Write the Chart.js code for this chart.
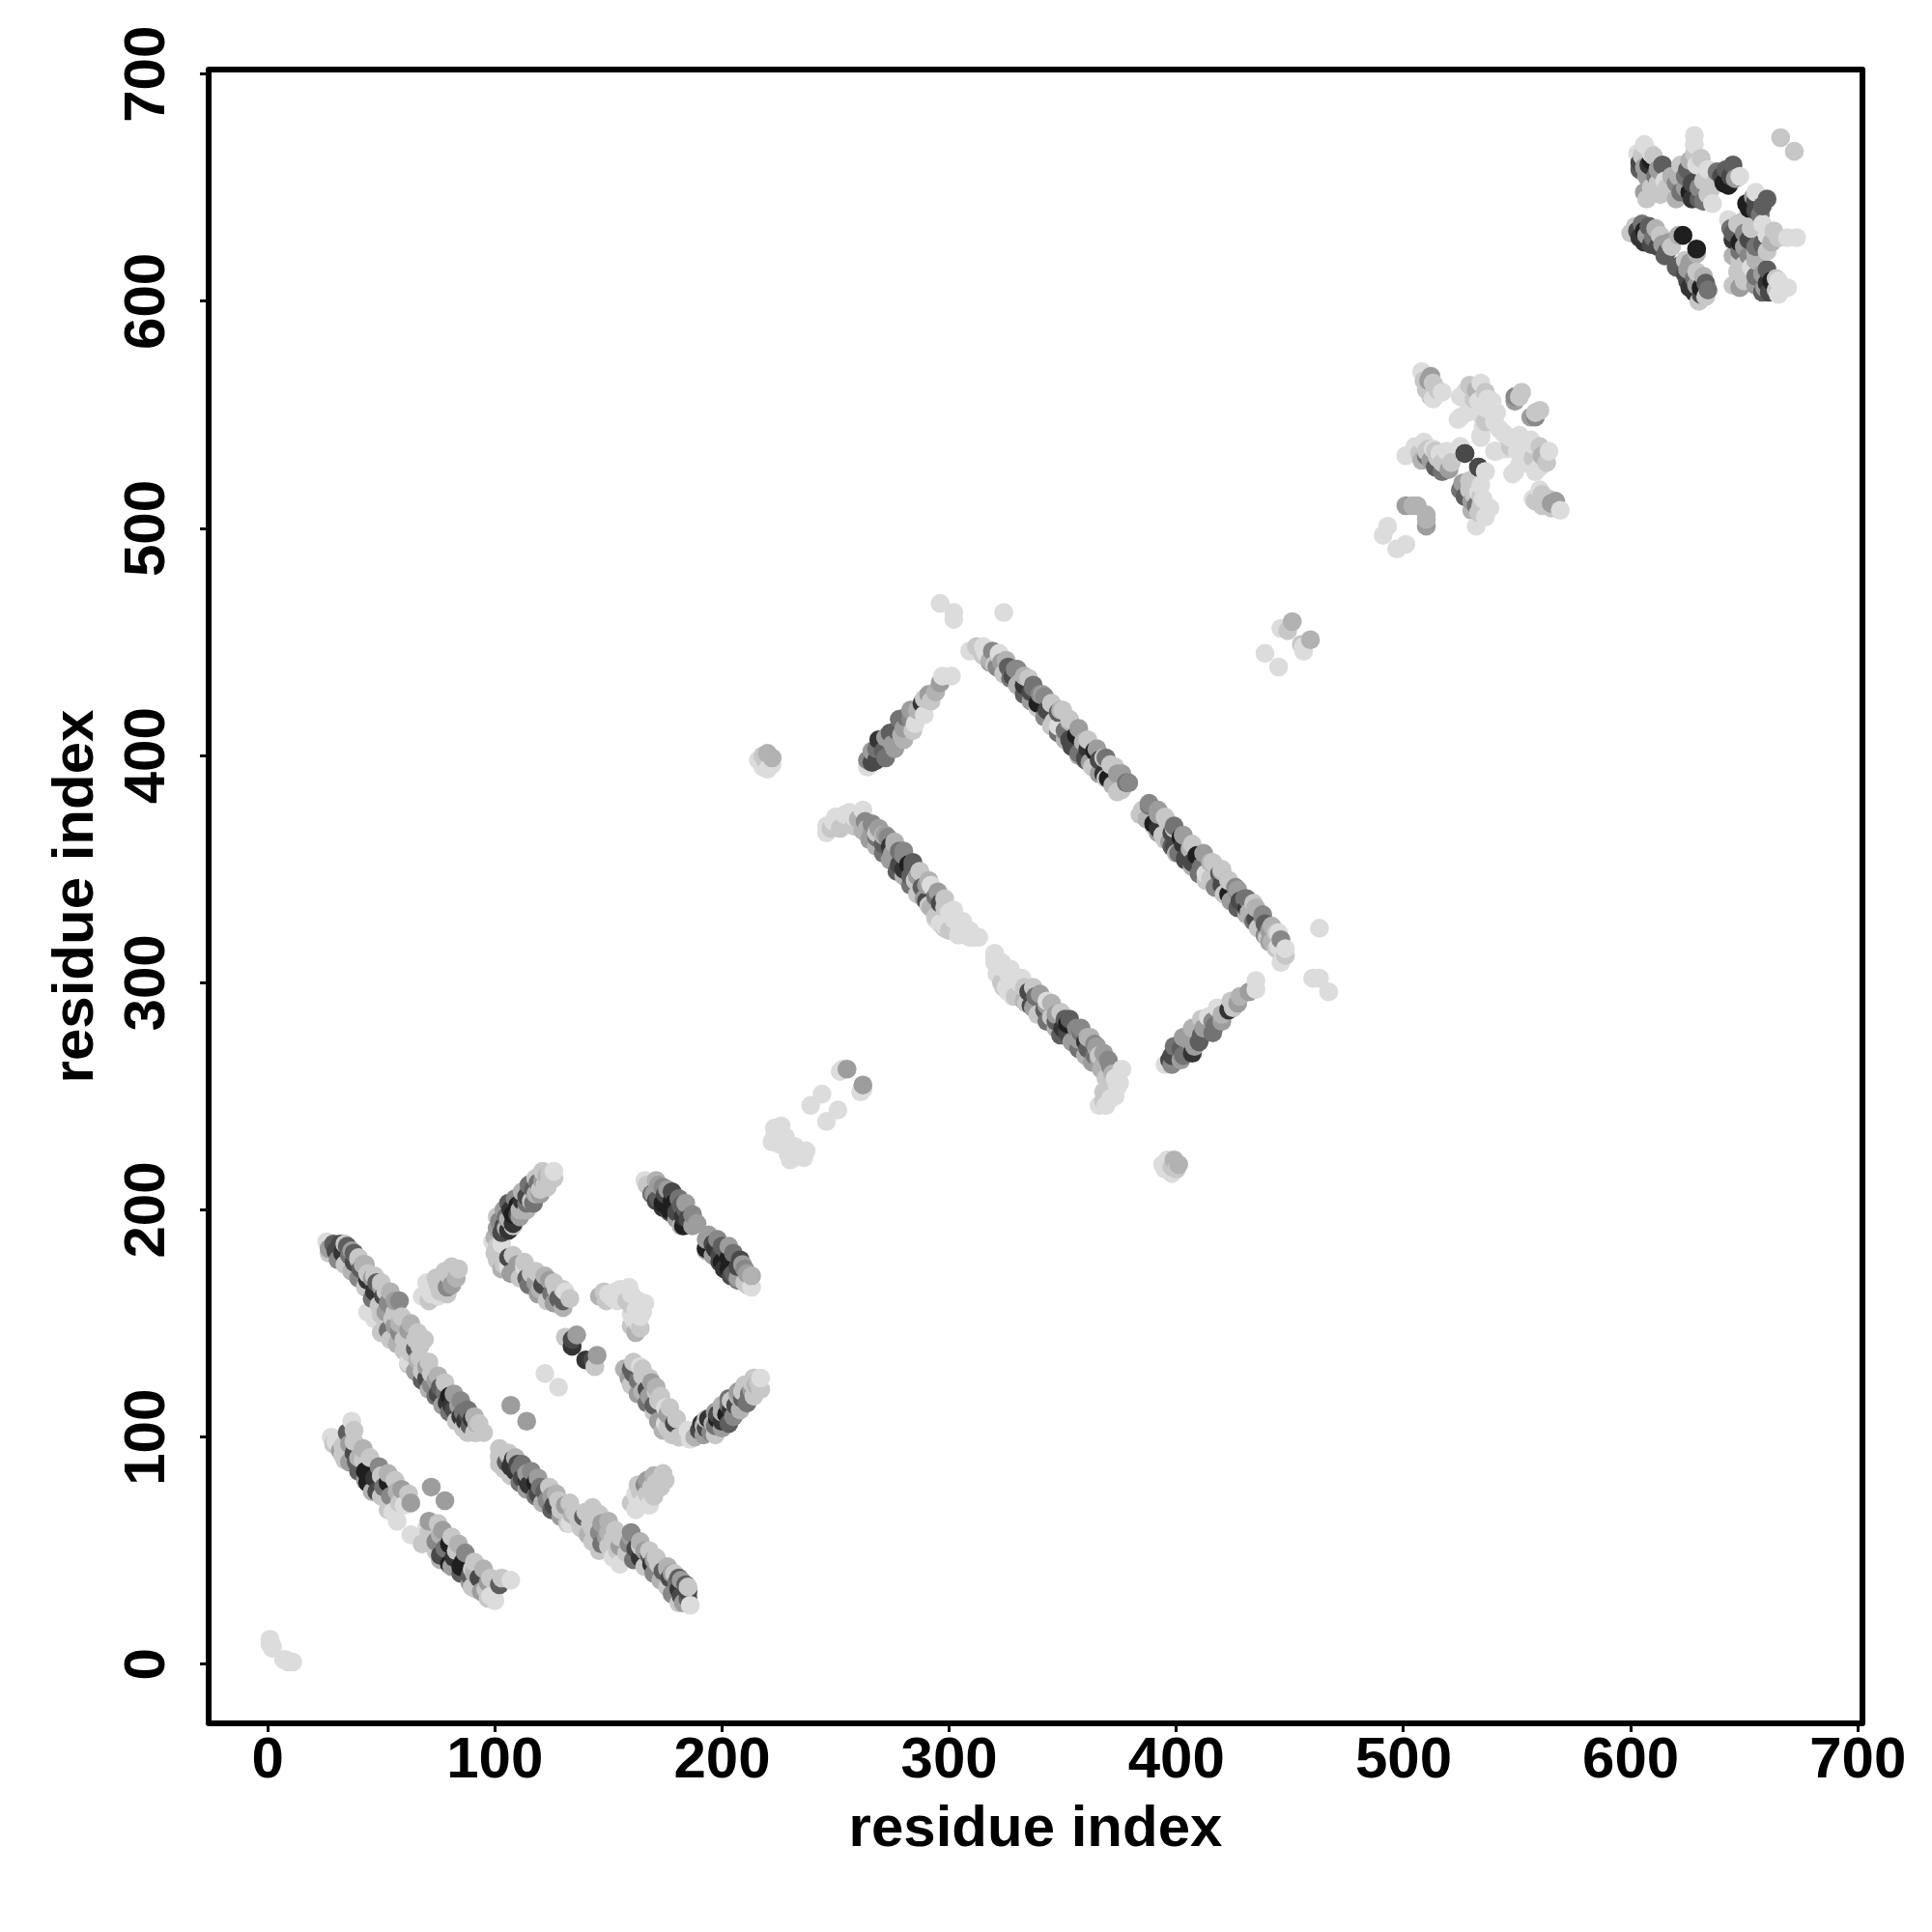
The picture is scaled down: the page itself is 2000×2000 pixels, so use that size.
<!DOCTYPE html>
<html>
<head>
<meta charset="utf-8">
<style>html,body{margin:0;padding:0;background:#fff}canvas{display:block}</style>
<script src="https://cdn.jsdelivr.net/npm/chart.js@4/dist/chart.umd.min.js"></script>
</head>
<body>
<canvas id="c" width="2000" height="2000"></canvas>
<script>
// Each contact: [residue i, residue j, strength 0..9]. A contact map is symmetric, so each pair shows as (i,j) and (j,i).
const tickValues = [0, 100, 200, 300, 400, 500, 600, 700];
const axisTitle = "residue index";
const termini = [[1,11,0],[1,9,0],[2,7,0],[2,8,0]];
const strandA1 = [[26,186,0],[27,183,3],[29,185,6],[30,182,7],[32,185,7],[33,181,8],[35,184,6],[36,180,5],[38,181,6],[38,177,7],[40,178,3],[41,174,6],[42,176,2],[44,172,1],[44,169,8],[46,170,3],[48,168,6],[47,164,8],[50,166,3],[51,162,7],[52,164,1],[53,159,4],[56,160,3],
  [27,181,1],[31,178,4],[34,176,1],[37,173,2],[40,170,4],[43,166,1],[46,161,5],[49,158,1],[52,155,3],[34,185,1],[37,182,3],[40,179,1],[43,176,2],[47,171,1],[50,168,1],[54,164,2],[58,160,4]];
const strandA2 = [[44,155,0],[47,152,0],[50,154,1],[52,150,1],[53,147,5],[55,152,1],[56,149,3],[58,146,4],[58,150,2],[60,143,1],[62,147,3],[62,142,1],[65,139,6],[65,143,1],[67,140,1],
  [56,155,1],[59,153,1],[63,150,2],[66,146,1],[69,143,1],[50,146,1],[54,143,1],[57,141,2],[60,138,1]];
const strandA3 = [[62,133,0],[63,137,1],[66,134,2],[68,129,1],[67,135,1],[70,131,3],[70,126,7],[72,128,1],[72,123,4],[74,125,3],[75,119,7],[76,122,6],[78,120,5],[79,115,8],[80,118,9],[81,114,8],[82,112,7],[84,114,3],[85,109,8],[86,111,5],[87,107,8],[88,110,7],[89,105,6],[90,108,8],[91,102,1],[92,106,2],[92,102,1],
  [62,132,1],[65,129,3],[68,125,6],[71,121,2],[74,118,5],[77,114,3],[80,111,5],[83,107,1],[86,104,1],[88,102,1],[71,133,1],[75,127,2],[78,124,1],[82,119,3],[85,116,4],[88,112,5],[91,109,2],[93,106,1],[95,102,1]];
const strandB = [[28,100,0],[30,98,0],[32,94,3],[33,96,1],[34,90,1],[35,102,6],[36,97,3],[37,107,0],[38,103,1],[38,93,7],[39,89,6],[40,91,2],[42,90,1],[43,85,9],[44,80,9],[45,86,9],[47,82,8],[48,76,7],[50,83,1],[51,78,5],[53,80,9],[54,74,4],[55,67,0],[57,76,2],[57,63,0],[58,71,1],[60,70,0],[63,71,3],[72,78,3],
  [29,97,1],[33,92,1],[36,89,3],[40,85,6],[43,81,3],[46,76,2],[50,74,1],[53,68,1],[38,98,1],[42,95,2],[45,91,1],[49,87,4],[53,84,2],[56,81,1],[59,77,3],[62,75,1]];
const strandC = [[100,188,2],[101,192,3],[102,195,4],[103,190,7],[104,193,7],[105,197,5],[106,191,8],[106,196,2],[107,200,8],[108,194,8],[108,198,9],[110,198,7],[110,202,9],[111,200,2],[112,204,8],[114,203,5],[114,206,7],[116,204,1],[117,209,6],[118,207,2],[119,212,5],[120,209,1],[121,213,3],[122,211,1],[123,215,2],[124,213,1],[124,216,1],[126,217,0],
  [101,197,1],[104,200,3],[106,203,6],[109,205,4],[112,208,2],[115,211,5],[118,214,1],[121,217,1],[105,192,2],[108,193,1],[111,197,3],[114,200,2],[117,203,5],[120,207,3],[123,210,1],[126,214,1]];
const strandD = [[99,186,0],[101,184,1],[103,185,0],[101,178,1],[104,176,1],[106,179,7],[106,175,0],[110,176,3],[113,175,0],[114,170,6],[116,172,1],[118,168,3],[120,171,1],[120,165,2],[121,167,7],[124,169,3],[125,163,5],[127,165,1],[128,161,6],[130,160,6],[131,164,0],
  [100,181,1],[103,174,2],[107,172,3],[111,170,1],[115,167,5],[119,163,3],[123,160,1],[126,159,3],[130,157,2],[108,180,1],[113,177,1],[118,173,1],[122,171,2],[126,168,1],[130,165,1],[133,161,1]];
const strandE = [[166,213,0],[168,210,1],[170,207,3],[172,211,3],[172,205,6],[174,203,9],[175,207,7],[176,209,3],[177,200,9],[178,204,9],[179,203,9],[180,199,7],[182,202,6],[183,197,8],[184,200,6],[183,193,9],[185,196,7],[187,193,3],
  [167,211,1],[169,207,5],[171,204,7],[174,201,8],[177,199,7],[180,196,3],[182,193,2],[171,213,2],[174,210,4],[178,208,7],[181,205,5],[184,203,3],[187,198,4],[189,194,3]];
const strandF = [[68,162,0],[71,165,0],[72,163,0],[75,167,1],[76,164,1],[78,169,1],[79,166,4],[81,167,3],[80,171,1],[83,170,2],[84,174,1],[71,160,1],[75,162,0],[79,163,1],[70,168,0],[74,170,1],[78,173,1],[81,175,1]];
const strandG = [[146,162,2],[149,160,1],[150,163,0],[152,161,0],[153,164,0],[156,162,0],[157,163,0],[159,166,0],[148,164,1],[154,160,0],[155,165,0],[158,160,1],[160,163,0]];
const isolated = [[107,114,3],[122,128,0],[131,144,1],[134,143,7],[134,140,8],[136,145,3],[216,398,0],[218,395,0],[220,394,0],[222,396,0],[218,400,1],[220,401,2],[222,399,2],[219,398,1],[223,236,0],[226,237,0],[222,230,0],[223,232,0],[225,229,0],[226,233,0],[228,232,0],[239,246,0],[244,251,0],[252,261,0],[253,262,0],[255,262,3],[439,445,0],[446,456,0],[448,456,0],[449,455,1],[451,459,2],[296,467,0],[302,463,0],[302,460,0],[324,463,0],[309,446,0]];
const strandH = [[246,366,0],[246,369,0],[248,368,1],[249,371,0],[252,368,1],[250,373,0],[254,374,0],[256,375,0],[258,373,0],[260,372,2],[262,376,0],[263,371,4],[264,368,2],[266,370,4],[266,366,3],[268,364,5],[269,368,3],[271,365,2],[271,361,6],[273,364,4],[274,360,8],[275,357,3],[276,361,2],[278,358,5],[278,352,7],[280,356,4],[280,350,8],[282,352,9],[283,347,6],[284,351,6],[285,345,1],[286,347,3],[287,349,4],[288,342,6],[290,343,3],[290,336,7],[292,343,0],[292,333,2],[294,338,5],[294,329,1],[296,335,7],[296,326,0],[298,333,1],[298,325,0],[300,331,0],[302,328,0],[300,323,1],[304,326,0],[304,321,0],[307,323,0],[309,320,0],[311,320,0],
  [258,369,1],[262,367,2],[265,363,3],[268,360,2],[271,357,5],[274,354,3],[277,349,6],[280,347,2],[283,343,5],[286,339,1],[289,337,3],[291,334,1],[294,328,0],[298,324,1],[268,366,1],[272,365,3],[276,362,2],[280,358,4],[284,353,6],[287,349,1],[291,345,2],[295,340,3],[298,337,1],[302,332,0],[306,327,0],[309,323,0],[313,320,0]];
const strandI = [[315,448,0],[316,445,0],[318,442,2],[319,446,4],[320,440,1],[322,445,0],[323,441,3],[325,437,1],[326,439,6],[328,435,7],[330,438,4],[331,432,2],[333,431,8],[335,434,1],[336,428,7],[337,430,5],[339,423,9],[340,427,4],[342,426,4],[343,420,7],[345,423,3],[346,415,1],[348,419,6],[348,413,0],[350,420,1],[351,411,5],[353,415,2],[353,407,7],[355,404,7],[356,409,9],[357,401,5],[359,406,2],[360,399,7],[361,403,8],[362,397,3],[364,402,9],[365,394,1],[366,398,7],[368,399,1],[368,392,8],[370,390,9],[371,396,1],[372,387,2],[374,392,3],[374,384,1],[376,385,1],[378,388,5],
  [312,448,1],[315,444,1],[318,441,3],[321,439,4],[324,436,1],[327,434,5],[330,431,2],[333,427,6],[336,424,3],[339,421,1],[342,417,4],[345,413,1],[348,410,5],[351,407,2],[354,404,7],[357,400,2],[360,398,6],[363,395,1],[366,392,3],[369,390,1],[322,444,1],[325,442,2],[329,438,4],[333,435,2],[337,431,5],[341,427,3],[345,423,1],[349,420,2],[353,416,1],[357,412,3],[361,407,1],[365,403,3],[369,399,5],[373,395,1],[376,392,3],[379,388,4]];
const strandJ = [[264,395,0],[264,398,4],[266,397,7],[266,402,3],[268,398,7],[268,403,5],[269,407,8],[271,402,6],[272,408,3],[274,410,6],[275,405,3],[277,411,6],[279,409,2],[278,416,5],[280,412,3],[281,417,5],[283,416,4],[283,420,3],[285,414,0],[286,420,2],[288,423,8],[289,425,1],[289,418,0],[291,427,3],[292,424,1],[294,428,2],[296,432,3],[297,435,0],[301,435,0],[272,399,5],[276,403,3],[280,407,2],[284,411,1]];
const domainP = [[508,569,0],[512,567,3],[511,565,3],[510,561,1],[513,564,1],[512,558,1],[515,561,1],[517,560,0],[525,558,0],[527,560,0],[529,563,1],[532,561,2],[531,557,1],[534,564,0],[536,560,1],[524,548,0],[525,549,0],[534,550,0],[536,547,1],[534,541,0],[539,556,0],[536,553,0],[540,547,0],[538,552,0],[549,558,4],[551,558,1],[501,532,0],[505,536,0],[509,538,0],[510,534,1],[510,532,5],[511,535,1],[512,530,3],[513,535,0],[514,527,6],[515,531,1],[516,533,0],[517,525,5],[517,529,1],[519,530,1],[520,526,3],[525,536,0],[527,533,7],[533,527,7],[536,525,0],[540,534,0],[501,510,3],[504,510,2],[506,510,2],[491,497,0],[493,501,0],
  [528,556,0],[530,552,0],[533,556,0],[537,557,0],[535,545,0],[528,551,0],[541,551,0],[542,544,0],[519,534,0],[521,529,1],[507,533,1],[508,530,2],[514,534,1],[513,557,0],[509,565,1],[549,556,3],[552,560,1]];
const domainQ = [[603,665,0],[604,661,7],[605,664,1],[606,659,3],[606,669,0],[607,655,3],[608,660,8],[609,662,9],[610,664,1],[612,658,3],[614,660,6],[607,645,1],[606,648,3],[609,650,1],[613,647,1],[612,652,1],[615,653,0],[618,648,1],[620,645,2],[620,652,4],[622,648,5],[622,660,1],[621,655,2],[624,650,3],[625,658,6],[626,648,9],[627,645,8],[628,673,0],[628,669,0],[628,665,1],[629,660,0],[630,645,6],[631,663,1],[632,644,5],[632,653,1],[634,658,0],[634,647,1],[636,643,0],[635,649,1],[640,655,7],[641,652,9],[642,658,6],[643,651,9],[645,660,6],[646,654,3],[648,655,0],[666,672,1],[602,633,1],[603,631,7],[604,628,8],[606,631,9],[606,626,8],[607,629,3],[609,625,7],[610,628,5],[612,624,7],[613,629,1],[614,625,3],[616,622,6],[621,629,2],[623,629,9],
  [609,665,0],[611,655,5],[604,658,6],[616,650,1],[618,655,2],[624,655,5],[627,652,7],[630,650,4],[626,662,2],[637,652,1],[638,657,5],[644,655,7],[611,632,2],[605,634,5],[608,633,6],[600,630,1],[617,626,3],[615,620,6],[618,624,1]];

const allContacts = [termini, strandA1, strandA2, strandA3, strandB, strandC, strandD, strandE, strandF, strandG, isolated, strandH, strandI, strandJ, domainP, domainQ].flat();
// Both triangles of the map, painted in ascending x as the source plot does.
const points = allContacts.flatMap(([i, j, s]) => [{x:i, y:j, s}, {x:j, y:i, s}]).sort((a, b) => a.x - b.x || a.y - b.y);
const grey = s => { const g = 220 - s * 21; return `rgb(${g},${g},${g})`; };

const frame = {
  id: "frame",
  afterDraw(chart) {
    const {ctx, chartArea: a} = chart;
    ctx.save();
    ctx.strokeStyle = "#000";
    ctx.lineWidth = 6;
    ctx.lineJoin = "round";
    ctx.strokeRect(a.left, a.top, a.right - a.left, a.bottom - a.top);
    ctx.restore();
  }
};
const setTicks = scale => { scale.ticks = tickValues.map(v => ({value: v})); };
const fontSpec = {family: "'Liberation Sans', Arial, sans-serif", size: 60, weight: "bold"};

new Chart(document.getElementById("c"), {
  type: "scatter",
  data: {datasets: [{
    data: points,
    pointRadius: 9.8,
    pointHoverRadius: 9.8,
    pointBorderWidth: 0,
    pointBackgroundColor: points.map(p => grey(p.s))
  }]},
  options: {
    responsive: false,
    animation: false,
    events: [],
    layout: {padding: {top: 72, right: 72, left: 0, bottom: 0}},
    plugins: {legend: {display: false}, tooltip: {enabled: false}, title: {display: false}},
    scales: {
      x: {
        type: "linear", min: -26, max: 702,
        afterBuildTicks: setTicks,
        afterFit(s) { s.height = 216; },
        border: {display: false},
        grid: {drawOnChartArea: false, drawTicks: true, tickLength: 9, tickWidth: 3, tickColor: "#000"},
        ticks: {color: "#000", font: fontSpec, padding: -6, maxRotation: 0, minRotation: 0, autoSkip: false, callback: v => String(v)},
        title: {display: true, text: axisTitle, color: "#000", font: fontSpec, padding: {top: 0, bottom: 70}}
      },
      y: {
        type: "linear", min: -26, max: 702,
        afterBuildTicks: setTicks,
        afterFit(s) { s.width = 216; },
        border: {display: false},
        grid: {drawOnChartArea: false, drawTicks: true, tickLength: 9, tickWidth: 3, tickColor: "#000"},
        ticks: {color: "#000", font: fontSpec, padding: 3, minRotation: 90, maxRotation: 90, crossAlign: "center", autoSkip: false, callback: v => String(v)},
        title: {display: true, text: axisTitle, color: "#000", font: fontSpec, padding: {top: 43, bottom: 0}}
      }
    }
  },
  plugins: [frame]
});
</script>
</body>
</html>
